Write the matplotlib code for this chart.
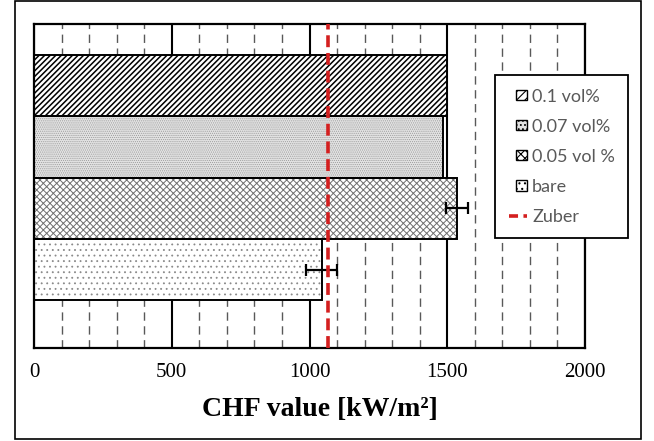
import matplotlib
matplotlib.use("Agg")
import matplotlib.pyplot as plt
from matplotlib.patches import Rectangle
from matplotlib.lines import Line2D
from matplotlib.legend_handler import HandlerPatch
import matplotlib.patches as mpatches

# ---- data ----
series = ["bare", "0.05 vol %", "0.07 vol%", "0.1 vol%"]
chf_values = [1044, 1536, 1485, 1500]
chf_errors = [55, 41, 0, 0]
zuber_value = 1066
x_major_ticks = [0, 500, 1000, 1500, 2000]
x_tick_labels = ["0", "500", "1000", "1500", "2000"]
x_minor_step = 100
x_label = "CHF value [kW/m²]"

# ---- styles ----
styles = {
    "bare":       dict(face="white",   hatch="...",      hcol="#8a8a8a", hlw=0.6),
    "0.05 vol %": dict(face="white",   hatch="xxxxx",    hcol="#707070", hlw=0.7),
    "0.07 vol%":  dict(face="#e2e2e2", hatch="........", hcol="#9a9a9a", hlw=0.5),
    "0.1 vol%":   dict(face="white",   hatch="//////",   hcol="black",   hlw=1.1),
}

W, H = 654, 441
fig = plt.figure(figsize=(W / 100, H / 100), dpi=100)
ax = fig.add_axes([34 / W, 1 - 348 / H, (585 - 34) / W, (348 - 24) / H])

ypos = list(range(len(series)))
handles = {}
for y, name, val in zip(ypos, series, chf_values):
    st = styles[name]
    plt.rcParams["hatch.linewidth"] = st["hlw"]
    ax.barh(y, val, height=1.0, color=st["face"], edgecolor=st["hcol"],
            hatch=st["hatch"], linewidth=0, zorder=2)
    ax.barh(y, val, height=1.0, color="none", edgecolor="black",
            linewidth=1.4, zorder=3)
    handles[name] = mpatches.Patch(facecolor=st["face"], edgecolor="black",
                                   hatch=st["hatch"][:4], linewidth=1.0)

for y, val, err in zip(ypos, chf_values, chf_errors):
    if err > 0:
        ax.errorbar(val, y, xerr=err, fmt="none", ecolor="black",
                    elinewidth=1.6, capsize=4, capthick=1.6, zorder=4)

ax.axvline(zuber_value, color="#d41f1f", linestyle=(0, (3.3, 1.6)),
           linewidth=2.6, zorder=5)

ax.set_xlim(x_major_ticks[0], x_major_ticks[-1])
ax.set_ylim(-1.274, 4.005)
ax.set_xticks(x_major_ticks)
ax.set_xticklabels(x_tick_labels, fontfamily="Liberation Serif", fontsize=15)
ax.xaxis.set_minor_locator(matplotlib.ticker.MultipleLocator(x_minor_step))
ax.set_yticks([])
ax.tick_params(axis="x", which="both", length=0, pad=11)
ax.set_axisbelow(True)
ax.grid(which="major", axis="x", color="black", linewidth=1.5)
ax.grid(which="minor", axis="x", color="#595959", linewidth=1.0,
        linestyle=(0, (6, 4)))
for s in ax.spines.values():
    s.set_linewidth(1.6)
    s.set_color("black")

fig.text(320 / W, 1 - 410 / H, x_label, ha="center", va="center",
         fontfamily="Liberation Serif", fontweight="bold", fontsize=20)


def square_patch(legend, orig_handle, xdescent, ydescent, width, height, fontsize):
    side = height
    return Rectangle((-xdescent + width - side, -ydescent), side, side)


plt.rcParams["hatch.linewidth"] = 0.8
legend_order = ["0.1 vol%", "0.07 vol%", "0.05 vol %", "bare"]
leg_handles = [handles[n] for n in legend_order]
zuber_handle = Line2D([], [], color="#d41f1f", linestyle=(0, (2.5, 1.5)),
                      linewidth=2.6)
leg = fig.legend(leg_handles + [zuber_handle], legend_order + ["Zuber"],
                 loc="upper left", bbox_to_anchor=(495 / W, 1 - 75 / H),
                 frameon=True, fancybox=False, edgecolor="black",
                 framealpha=1, prop={"family": "Lato", "size": 13},
                 handlelength=1.0, handleheight=0.5, handletextpad=0.3,
                 labelspacing=0.78, borderpad=0.75, borderaxespad=0,
                 handler_map={mpatches.Patch: HandlerPatch(patch_func=square_patch)})
leg.get_frame().set_linewidth(1.3)
for t in leg.get_texts():
    t.set_color("#595959")

fig.patches.append(Rectangle((15 / W, 1 - 439 / H), (641 - 15) / W, (439 - 0.8) / H,
                             transform=fig.transFigure, fill=False,
                             edgecolor="black", linewidth=1.2))

fig.savefig("out.png", dpi=100)
